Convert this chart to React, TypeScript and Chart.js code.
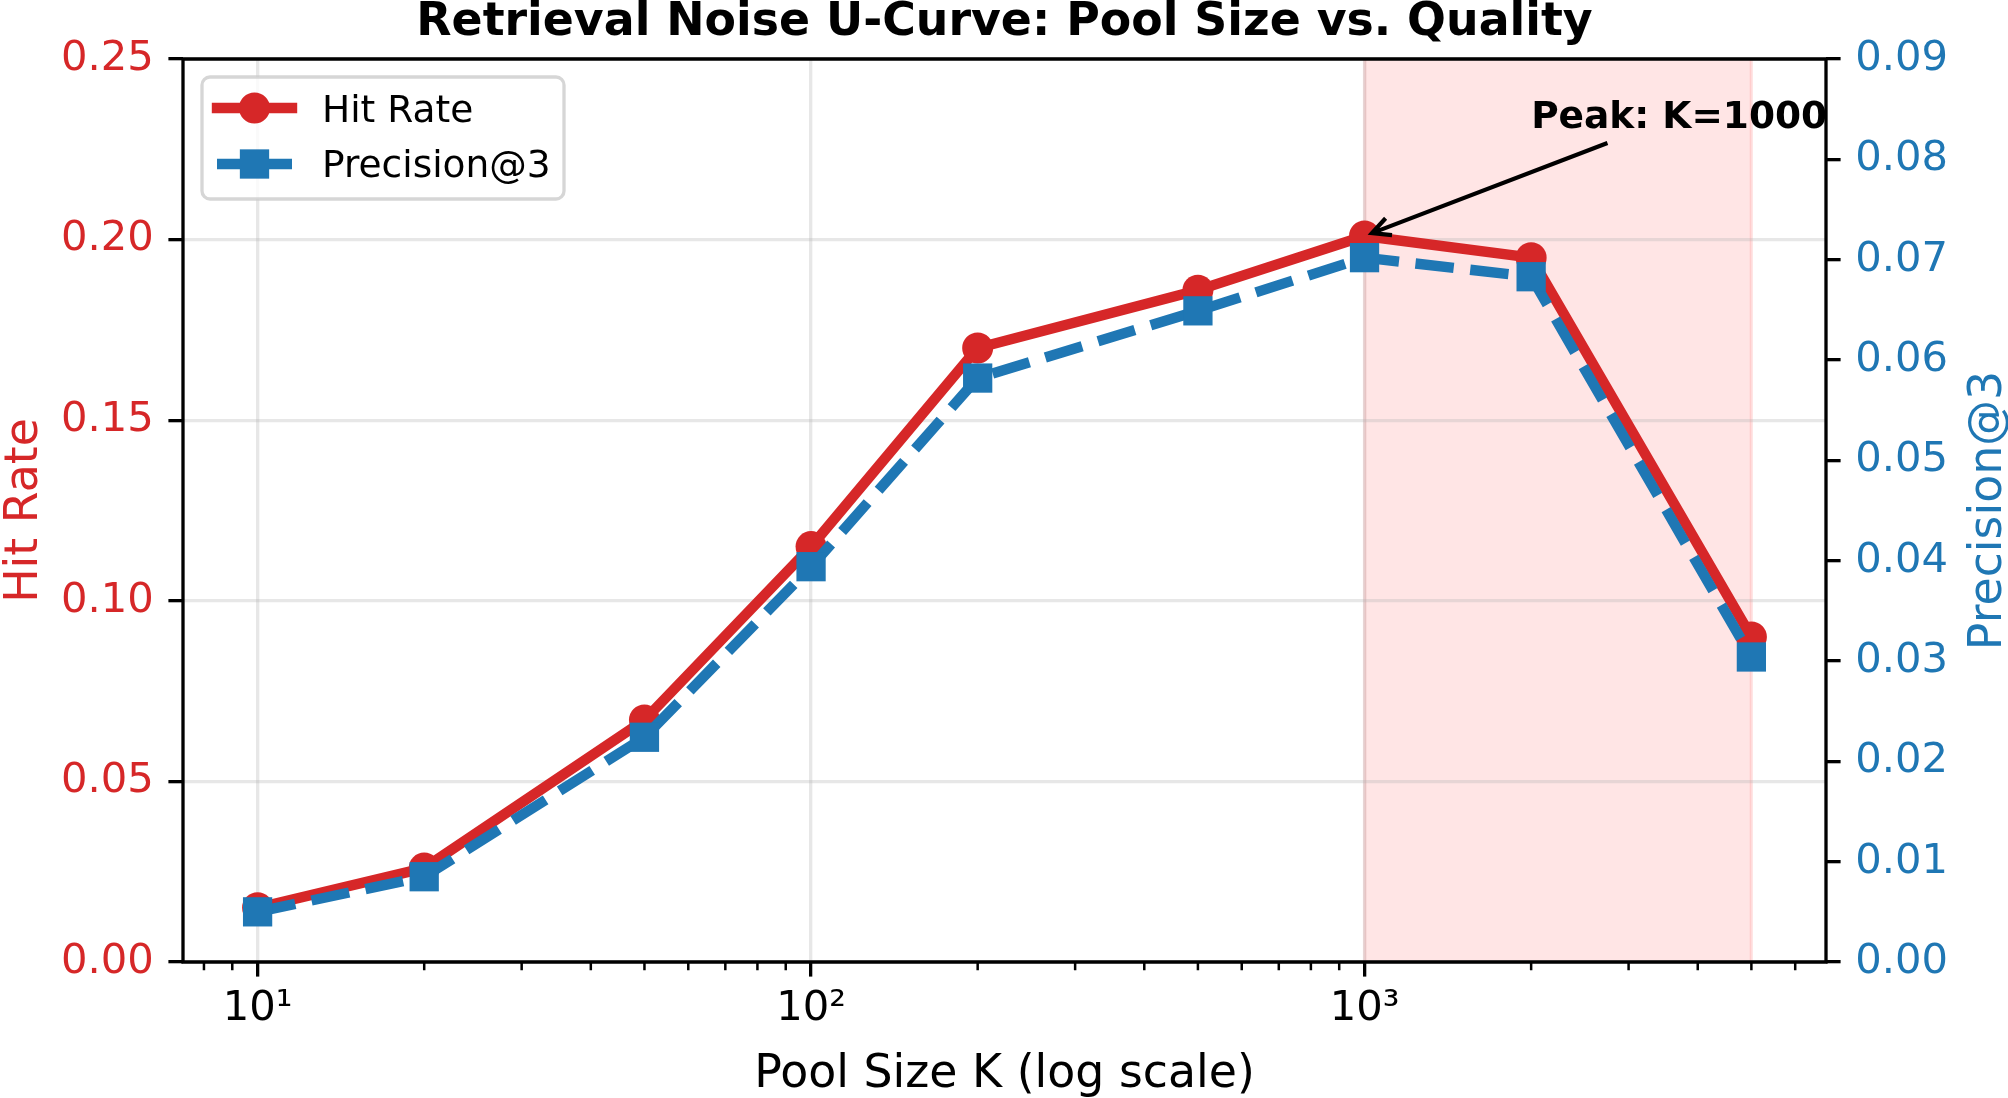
import React, { useEffect, useRef } from 'react';
import { Chart, registerables } from 'chart.js';

Chart.register(...registerables);

// ---------------- data ----------------
const POOL_SIZES = [10, 20, 50, 100, 200, 500, 1000, 2000, 5000];
const HIT_RATE = [0.015, 0.026, 0.067, 0.115, 0.170, 0.186, 0.201, 0.195, 0.090];
const PRECISION_AT_3 = [0.005, 0.0085, 0.0224, 0.0394, 0.0582, 0.0649, 0.0702, 0.0683, 0.0304];

const HIT_TICKS = [0, 0.05, 0.1, 0.15, 0.2, 0.25];
const PREC_TICKS = [0, 0.01, 0.02, 0.03, 0.04, 0.05, 0.06, 0.07, 0.08, 0.09];
const X_MAJOR_TICKS = [10, 100, 1000];
const X_MAJOR_LABELS = ['10\u00B9', '10\u00B2', '10\u00B3'];
const X_MINOR_TICKS = [8, 9, 20, 30, 40, 50, 60, 70, 80, 90, 200, 300, 400, 500, 600, 700, 800, 900, 2000, 3000, 4000, 5000, 6000];
const X_RANGE = [7.332, 6820];
const HIT_RANGE = [0, 0.25];
const PREC_RANGE = [0, 0.09];

const HIGHLIGHT_RANGE = [1000, 5000];
const PEAK_INDEX = 6;
const ANNOT_TEXT = 'Peak: K=1000';
const ANNOT_POS = [2000, 0.231];

const TITLE = 'Retrieval Noise U-Curve: Pool Size vs. Quality';
const X_TITLE = 'Pool Size K (log scale)';
const Y_TITLE = 'Hit Rate';
const Y2_TITLE = 'Precision@3';
const SERIES_NAMES = ['Hit Rate', 'Precision@3'];

// ---------------- styles ----------------
const RED = '#d62728';
const BLUE = '#1f77b4';
const FONT = '"DejaVu Sans", "Liberation Sans", sans-serif';
const GRID = 'rgba(176,176,176,0.3)';
const LW = 10.4;
const DASH = [38.5, 16.6];

export default function App() {
  const ref = useRef<HTMLCanvasElement>(null);

  useEffect(() => {
    const canvas = ref.current;
    if (!canvas) return;

    const deco = {
      id: 'deco',
      beforeDraw(chart: any) {
        const { ctx, chartArea: a, scales } = chart;
        ctx.save();
        ctx.fillStyle = '#ffffff';
        ctx.fillRect(0, 0, chart.width, chart.height);
        const x0 = scales.x.getPixelForValue(HIGHLIGHT_RANGE[0]);
        const x1 = scales.x.getPixelForValue(HIGHLIGHT_RANGE[1]);
        ctx.fillStyle = 'rgba(255,0,0,0.1)';
        ctx.fillRect(x0, a.top, x1 - x0, a.bottom - a.top);
        ctx.strokeStyle = 'rgba(255,0,0,0.1)';
        ctx.lineWidth = 3.3;
        ctx.beginPath();
        ctx.moveTo(x0, a.top); ctx.lineTo(x0, a.bottom);
        ctx.moveTo(x1, a.top); ctx.lineTo(x1, a.bottom);
        ctx.stroke();
        ctx.restore();
      },
      afterDatasetsDraw(chart: any) {
        const { ctx, chartArea: a, scales } = chart;
        const xs = scales.x;
        const yl = scales.y;
        ctx.save();
        // spines
        ctx.strokeStyle = '#000';
        ctx.lineWidth = 3.3;
        ctx.lineCap = 'square';
        ctx.beginPath();
        ctx.rect(a.left, a.top, a.right - a.left, a.bottom - a.top);
        ctx.stroke();
        // minor x ticks
        ctx.lineCap = 'butt';
        ctx.lineWidth = 2.5;
        ctx.beginPath();
        X_MINOR_TICKS.forEach((v) => {
          const px = xs.getPixelForValue(v);
          ctx.moveTo(px, a.bottom);
          ctx.lineTo(px, a.bottom + 8.3);
        });
        ctx.stroke();

        // annotation
        ctx.font = `bold 37.5px ${FONT}`;
        ctx.fillStyle = '#000';
        ctx.textAlign = 'left';
        ctx.textBaseline = 'alphabetic';
        const tx = xs.getPixelForValue(ANNOT_POS[0]);
        const ty = yl.getPixelForValue(ANNOT_POS[1]);
        ctx.fillText(ANNOT_TEXT, tx, ty);
        const w = ctx.measureText(ANNOT_TEXT).width;
        const cx = tx + w / 2;
        const cy = ty - 12;
        const px = xs.getPixelForValue(POOL_SIZES[PEAK_INDEX]);
        const py = yl.getPixelForValue(HIT_RATE[PEAK_INDEX]);
        let dx = px - cx, dy = py - cy;
        const len = Math.hypot(dx, dy);
        dx /= len; dy /= len;
        const tExit = (ty + 9 - cy) / dy + 18;
        const sx = cx + dx * tExit, sy = cy + dy * tExit;
        const ex = px - dx * 8, ey = py - dy * 8;
        ctx.strokeStyle = '#000';
        ctx.lineWidth = 4.2;
        ctx.lineCap = 'butt';
        ctx.lineJoin = 'miter';
        ctx.beginPath();
        ctx.moveTo(sx, sy);
        ctx.lineTo(ex, ey);
        const L = 18, W = 9;
        const bx = ex - dx * L, by = ey - dy * L;
        ctx.moveTo(bx - dy * W, by + dx * W);
        ctx.lineTo(ex, ey);
        ctx.lineTo(bx + dy * W, by - dx * W);
        ctx.stroke();

        // legend
        const lx = a.left + 19, ly = a.top + 18, lw = 362, lh = 122;
        ctx.fillStyle = 'rgba(255,255,255,0.8)';
        ctx.strokeStyle = 'rgba(204,204,204,0.8)';
        ctx.lineWidth = 3.3;
        ctx.beginPath();
        ctx.roundRect(lx, ly, lw, lh, 8);
        ctx.fill();
        ctx.stroke();
        const hx0 = lx + 15, hx1 = hx0 + 75, hxc = (hx0 + hx1) / 2;
        const r1 = ly + 31, r2 = ly + 87;
        // red handle
        ctx.strokeStyle = RED;
        ctx.lineWidth = LW;
        ctx.lineCap = 'square';
        ctx.setLineDash([]);
        ctx.beginPath(); ctx.moveTo(hx0, r1); ctx.lineTo(hx1, r1); ctx.stroke();
        ctx.fillStyle = RED;
        ctx.beginPath(); ctx.arc(hxc, r1, 15.5, 0, Math.PI * 2); ctx.fill();
        // blue handle
        ctx.strokeStyle = BLUE;
        ctx.lineCap = 'butt';
        ctx.setLineDash(DASH);
        ctx.lineDashOffset = 3.5;
        ctx.beginPath(); ctx.moveTo(hx0, r2); ctx.lineTo(hx1, r2); ctx.stroke();
        ctx.setLineDash([]);
        ctx.lineDashOffset = 0;
        ctx.fillStyle = BLUE;
        ctx.fillRect(hxc - 14.65, r2 - 14.65, 29.3, 29.3);
        // labels
        ctx.fillStyle = '#000';
        ctx.font = `37.5px ${FONT}`;
        ctx.textAlign = 'left';
        ctx.textBaseline = 'alphabetic';
        ctx.fillText(SERIES_NAMES[0], lx + 120, ly + 45);
        ctx.fillText(SERIES_NAMES[1], lx + 120, ly + 100);
        ctx.restore();
      },
      afterDraw(chart: any) {
        const { ctx, chartArea: a } = chart;
        const midX = (a.left + a.right) / 2;
        const midY = (a.top + a.bottom) / 2;
        ctx.save();
        ctx.textAlign = 'center';
        ctx.textBaseline = 'alphabetic';
        ctx.fillStyle = '#000';
        ctx.font = `bold 45.8px ${FONT}`;
        ctx.fillText(TITLE, midX, a.top - 24);
        ctx.font = `45.8px ${FONT}`;
        ctx.fillText(X_TITLE, midX, a.bottom + 125);
        ctx.save();
        ctx.translate(36.5, midY);
        ctx.rotate(-Math.PI / 2);
        ctx.fillStyle = RED;
        ctx.fillText(Y_TITLE, 0, 0);
        ctx.restore();
        ctx.save();
        ctx.translate(a.right + 174.5, midY);
        ctx.rotate(-Math.PI / 2);
        ctx.fillStyle = BLUE;
        ctx.fillText(Y2_TITLE, 0, 0);
        ctx.restore();
        ctx.restore();
      },
    };

    const chart = new Chart(canvas, {
      type: 'line',
      data: {
        datasets: [
          {
            label: SERIES_NAMES[1],
            yAxisID: 'y1',
            data: POOL_SIZES.map((k, i) => ({ x: k, y: PRECISION_AT_3[i] })),
            borderColor: BLUE,
            backgroundColor: BLUE,
            borderWidth: LW,
            borderDash: DASH,
            borderCapStyle: 'butt',
            borderJoinStyle: 'round',
            pointStyle: 'rect',
            pointRadius: 20.7,
            pointBorderWidth: 0,
            pointBackgroundColor: BLUE,
            pointBorderColor: BLUE,
            tension: 0,
            fill: false,
            clip: false,
            order: 0,
          },
          {
            label: SERIES_NAMES[0],
            yAxisID: 'y',
            data: POOL_SIZES.map((k, i) => ({ x: k, y: HIT_RATE[i] })),
            borderColor: RED,
            backgroundColor: RED,
            borderWidth: LW,
            borderCapStyle: 'square',
            borderJoinStyle: 'round',
            pointStyle: 'circle',
            pointRadius: 15.5,
            pointBorderWidth: 0,
            pointBackgroundColor: RED,
            pointBorderColor: RED,
            tension: 0,
            fill: false,
            clip: false,
            order: 1,
          },
        ],
      },
      options: {
        responsive: false,
        animation: false,
        devicePixelRatio: 1,
        events: [],
        layout: { padding: { top: 59, left: 0, right: 0, bottom: 0 } },
        plugins: {
          legend: { display: false },
          title: { display: false },
          tooltip: { enabled: false },
        },
        scales: {
          x: {
            type: 'logarithmic',
            position: 'bottom',
            min: X_RANGE[0],
            max: X_RANGE[1],
            afterBuildTicks: (s: any) => {
              s.ticks = X_MAJOR_TICKS.map((v) => ({ value: v, major: true }));
            },
            afterFit: (s: any) => { s.height = 136; },
            ticks: {
              autoSkip: false,
              maxRotation: 0,
              minRotation: 0,
              padding: 8,
              color: '#000',
              font: { family: FONT, size: 41.7 },
              callback: (v: any) => {
                const i = X_MAJOR_TICKS.indexOf(Number(v));
                return i >= 0 ? X_MAJOR_LABELS[i] : '';
              },
            },
            grid: {
              color: GRID,
              lineWidth: 3.3,
              drawTicks: true,
              tickLength: 14.6,
              tickColor: '#000',
              tickWidth: 3.3,
            },
            border: { display: false },
          },
          y: {
            type: 'linear',
            position: 'left',
            min: HIT_RANGE[0],
            max: HIT_RANGE[1],
            afterBuildTicks: (s: any) => { s.ticks = HIT_TICKS.map((v) => ({ value: v })); },
            afterFit: (s: any) => { s.width = 183; },
            ticks: {
              autoSkip: false,
              padding: 14.6,
              color: RED,
              font: { family: FONT, size: 41.7 },
              callback: (v: any) => Number(v).toFixed(2),
            },
            grid: {
              color: GRID,
              lineWidth: 3.3,
              drawTicks: true,
              tickLength: 14.6,
              tickColor: '#000',
              tickWidth: 3.3,
            },
            border: { display: false },
          },
          y1: {
            type: 'linear',
            position: 'right',
            min: PREC_RANGE[0],
            max: PREC_RANGE[1],
            afterBuildTicks: (s: any) => { s.ticks = PREC_TICKS.map((v) => ({ value: v })); },
            afterFit: (s: any) => { s.width = 182; },
            ticks: {
              autoSkip: false,
              padding: 14.6,
              color: BLUE,
              font: { family: FONT, size: 41.7 },
              callback: (v: any) => Number(v).toFixed(2),
            },
            grid: {
              drawOnChartArea: false,
              drawTicks: true,
              tickLength: 14.6,
              tickColor: '#000',
              tickWidth: 3.3,
              lineWidth: 3.3,
            },
            border: { display: false },
          },
        },
      },
      plugins: [deco],
    } as any);

    return () => chart.destroy();
  }, []);

  return (
    <div style={{ position: 'absolute', left: 0, top: 0, width: 2008, height: 1098, background: '#fff' }}>
      <canvas ref={ref} width={2008} height={1098} style={{ width: 2008, height: 1098, display: 'block' }} />
    </div>
  );
}
